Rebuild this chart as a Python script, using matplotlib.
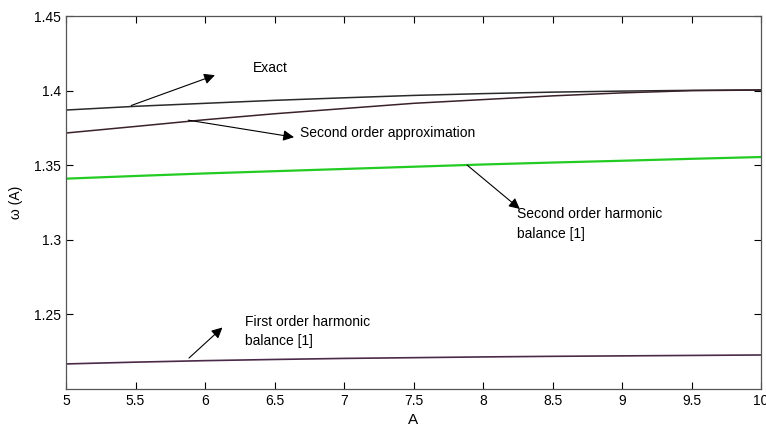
import matplotlib.pyplot as plt

plt.rcParams['font.family'] = ['Liberation Sans', 'DejaVu Sans']

amp = [5, 5.5, 6, 6.5, 7, 7.5, 8, 8.5, 9, 9.5, 10]
exact = [1.3870, 1.3895, 1.3915, 1.3935, 1.3952, 1.3968, 1.3980, 1.3990, 1.3997, 1.4002, 1.4005]
second_approx = [1.3716, 1.3760, 1.3805, 1.3845, 1.3880, 1.3915, 1.3940, 1.3965, 1.3985, 1.4000, 1.4004]
second_hb = [1.3410, 1.3428, 1.3445, 1.3460, 1.3475, 1.3490, 1.3505, 1.3518, 1.3530, 1.3543, 1.3555]
first_hb = [1.2168, 1.2180, 1.2190, 1.2198, 1.2205, 1.2210, 1.2215, 1.2219, 1.2222, 1.2225, 1.2228]

fig = plt.figure(figsize=(7.66, 4.34), dpi=100)
ax = fig.add_axes([0.0862, 0.1037, 0.9073, 0.8593])

ax.plot(amp, exact, color='#2a2a2a', lw=1.1)
ax.plot(amp, second_approx, color='#3a2228', lw=1.1)
ax.plot(amp, second_hb, color='#22cc22', lw=1.6)
ax.plot(amp, first_hb, color='#4a2a48', lw=1.2)

ax.set_xlim(5, 10)
ax.set_ylim(1.2, 1.45)
ax.set_xticks([5, 5.5, 6, 6.5, 7, 7.5, 8, 8.5, 9, 9.5, 10])
ax.set_xticklabels(['5', '5.5', '6', '6.5', '7', '7.5', '8', '8.5', '9', '9.5', '10'])
ax.set_yticks([1.25, 1.3, 1.35, 1.4, 1.45])
ax.set_yticklabels(['1.25', '1.3', '1.35', '1.4', '1.45'])
ax.tick_params(direction='in', top=True, right=True, labelsize=10, length=5, width=0.8)
for s in ax.spines.values():
    s.set_color('#555555')
    s.set_linewidth(0.9)

ax.set_xlabel('A', fontsize=11, labelpad=4)
ax.set_ylabel('ω (A)', fontsize=10, labelpad=8)

# pijlen met labels
arrow = dict(arrowstyle='-|>', color='black', lw=0.8, mutation_scale=16)
ax.annotate('', xy=(6.09, 1.411), xytext=(5.45, 1.3894), arrowprops=arrow)
ax.text(6.345, 1.415, 'Exact', fontsize=10, va='center')
ax.annotate('', xy=(6.66, 1.3685), xytext=(5.86, 1.3805), arrowprops=arrow)
ax.text(6.68, 1.3715, 'Second order approximation', fontsize=10, va='center')
ax.annotate('', xy=(8.28, 1.3195), xytext=(7.87, 1.3513), arrowprops=arrow)
ax.text(8.245, 1.3105, 'Second order harmonic\nbalance [1]', fontsize=10, va='center',
        linespacing=1.5)
ax.annotate('', xy=(6.14, 1.2425), xytext=(5.87, 1.2195), arrowprops=arrow)
ax.text(6.29, 1.2385, 'First order harmonic\nbalance [1]', fontsize=10, va='center',
        linespacing=1.5)

fig.savefig('out.png', dpi=100)
